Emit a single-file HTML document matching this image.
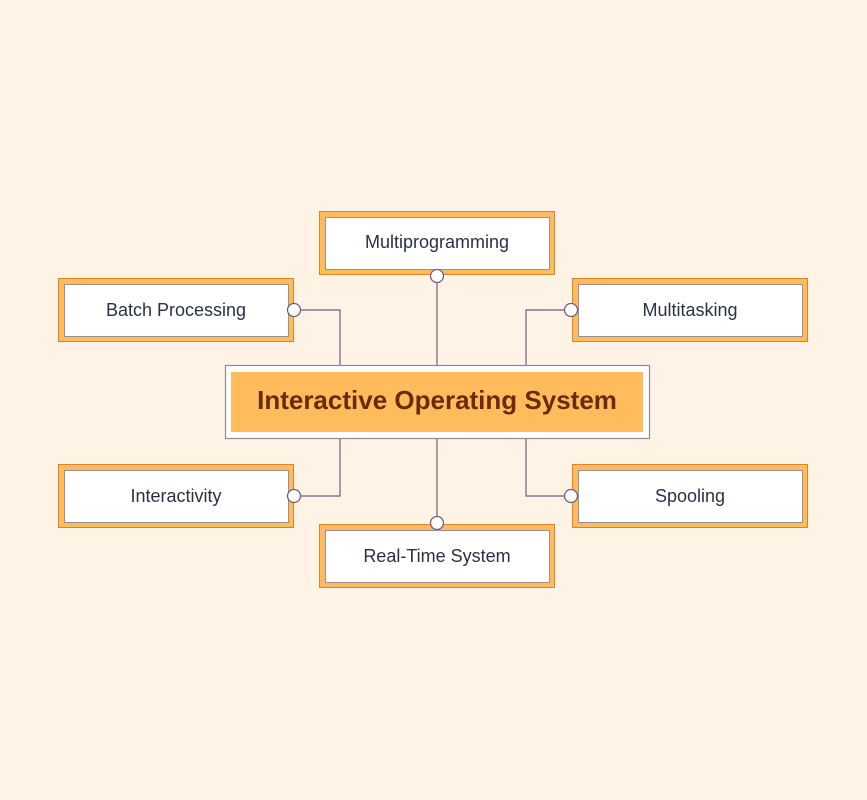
<!DOCTYPE html>
<html><head><meta charset="utf-8"><style>
html,body{margin:0;padding:0;background:#fef3e5;}
svg{display:block;}
text{font-family:"Liberation Sans",sans-serif;}
</style></head><body>
<svg width="867" height="800" viewBox="0 0 867 800" xmlns="http://www.w3.org/2000/svg">
<rect width="867" height="800" fill="#fef3e5"/>
<g stroke="#6f5f80" stroke-width="1.2" fill="none">
<polyline points="294,310 340,310 340,366"/>
<polyline points="294,496 340,496 340,438"/>
<polyline points="571,310 526,310 526,366"/>
<polyline points="571,496 526,496 526,438"/>
<line x1="437" y1="276" x2="437" y2="366"/>
<line x1="437" y1="438" x2="437" y2="523"/>
</g>
<g>
<rect x="225.5" y="365.5" width="424" height="73" fill="#fff" stroke="#8a8a9a" stroke-width="1.2"/>
<rect x="231" y="372" width="412" height="60" fill="#ffbb5c"/>
<text x="437" y="409" text-anchor="middle" font-size="26" font-weight="bold" fill="#6b2a0a">Interactive Operating System</text>
</g>
<g font-size="18" fill="#2a3145" text-anchor="middle">
<rect x="58.5" y="278.5" width="235" height="63" fill="#ffbb5c" stroke="#d4862a"/>
<rect x="64.5" y="284.5" width="224" height="52" fill="#fff" stroke="#9a8f95"/>
<text x="176" y="316">Batch Processing</text>
<rect x="319.5" y="211.5" width="235" height="63" fill="#ffbb5c" stroke="#d4862a"/>
<rect x="325.5" y="217.5" width="224" height="52" fill="#fff" stroke="#9a8f95"/>
<text x="437" y="248">Multiprogramming</text>
<rect x="572.5" y="278.5" width="235" height="63" fill="#ffbb5c" stroke="#d4862a"/>
<rect x="578.5" y="284.5" width="224" height="52" fill="#fff" stroke="#9a8f95"/>
<text x="690" y="316">Multitasking</text>
<rect x="58.5" y="464.5" width="235" height="63" fill="#ffbb5c" stroke="#d4862a"/>
<rect x="64.5" y="470.5" width="224" height="52" fill="#fff" stroke="#9a8f95"/>
<text x="176" y="502">Interactivity</text>
<rect x="572.5" y="464.5" width="235" height="63" fill="#ffbb5c" stroke="#d4862a"/>
<rect x="578.5" y="470.5" width="224" height="52" fill="#fff" stroke="#9a8f95"/>
<text x="690" y="502">Spooling</text>
<rect x="319.5" y="524.5" width="235" height="63" fill="#ffbb5c" stroke="#d4862a"/>
<rect x="325.5" y="530.5" width="224" height="52" fill="#fff" stroke="#9a8f95"/>
<text x="437" y="562">Real-Time System</text>
</g>
<g fill="#fff" stroke="#6f5f80" stroke-width="1.3">
<circle cx="294" cy="310" r="6.5"/>
<circle cx="294" cy="496" r="6.5"/>
<circle cx="571" cy="310" r="6.5"/>
<circle cx="571" cy="496" r="6.5"/>
<circle cx="437" cy="276" r="6.5"/>
<circle cx="437" cy="523" r="6.5"/>
</g>
</svg>
</body></html>
